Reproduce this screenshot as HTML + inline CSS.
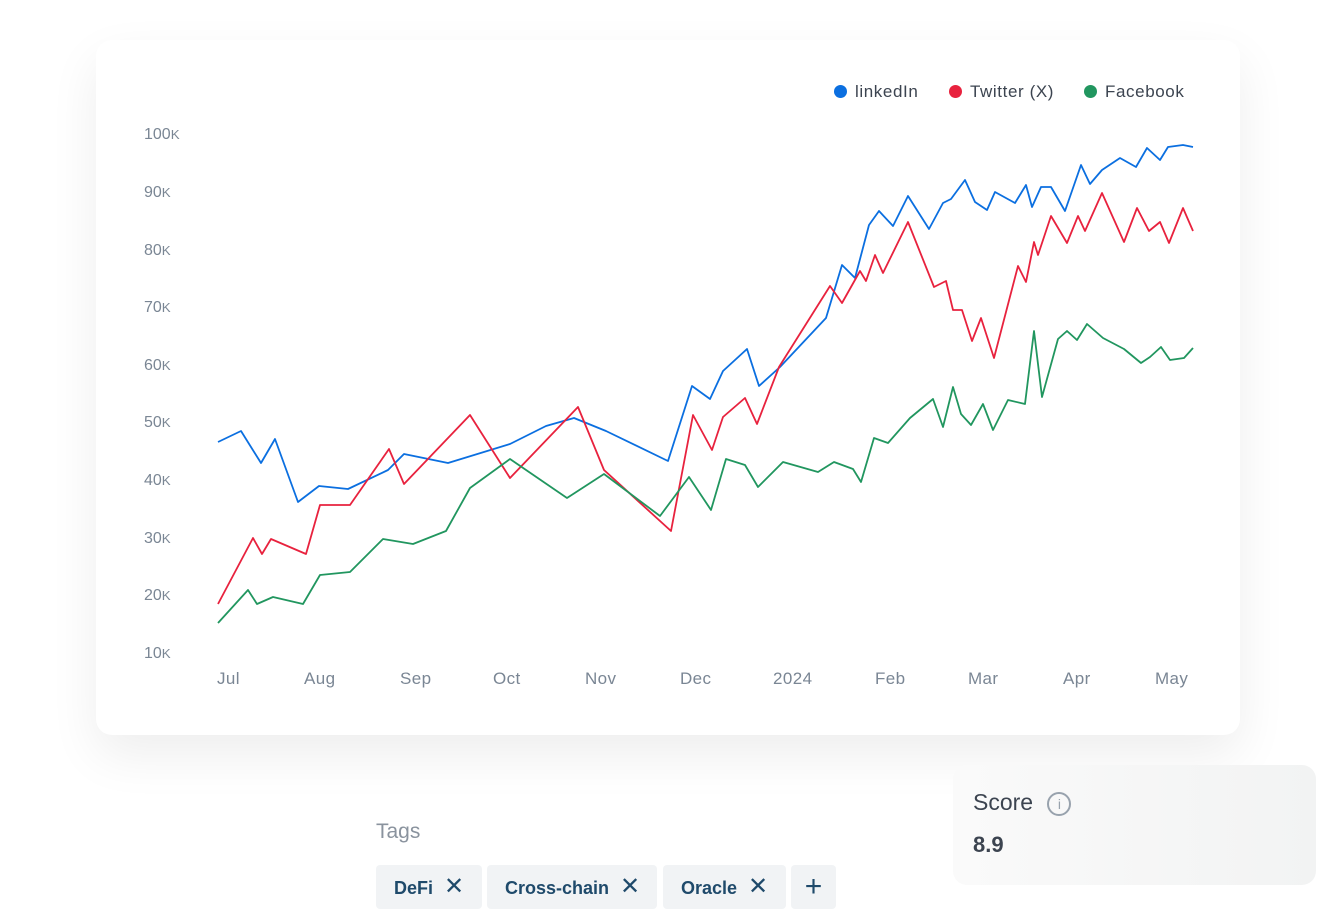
<!DOCTYPE html><html><head><style>
body{margin:0;width:1337px;height:912px;background:#fff;font-family:"Liberation Sans",sans-serif;position:relative;overflow:hidden}
.card{position:absolute;left:96px;top:40px;width:1144px;height:695px;background:#fff;border-radius:16px;box-shadow:0 20px 50px rgba(0,0,0,0.07)}
.yl{position:absolute;font-size:16px;color:#7a8694;margin-top:2px}
.xl{position:absolute;font-size:17px;color:#7a8694;top:669px;letter-spacing:0.4px}
.leg{position:absolute;top:82px;font-size:17px;color:#3c4450;letter-spacing:0.6px}
.dot{display:inline-block;width:13px;height:13px;border-radius:50%;margin-right:8px;vertical-align:-1px}
.tag{position:absolute;top:865px;height:44px;background:#f1f3f5;border-radius:4px;color:#1f4a6b;font-weight:bold;font-size:18px;line-height:44px;padding:0 0 0 18px;box-sizing:border-box}
</style></head><body>
<div class="card"></div>
<div class="leg" style="left:834px"><span class="dot" style="background:#0b6fe0"></span>linkedIn</div>
<div class="leg" style="left:949px"><span class="dot" style="background:#e8223e"></span>Twitter (X)</div>
<div class="leg" style="left:1084px"><span class="dot" style="background:#21965f"></span>Facebook</div>
<div class="yl" style="left:144px;top:124px">100<small>K</small></div>
<div class="yl" style="left:144px;top:182px">90<small>K</small></div>
<div class="yl" style="left:144px;top:240px">80<small>K</small></div>
<div class="yl" style="left:144px;top:297px">70<small>K</small></div>
<div class="yl" style="left:144px;top:355px">60<small>K</small></div>
<div class="yl" style="left:144px;top:412px">50<small>K</small></div>
<div class="yl" style="left:144px;top:470px">40<small>K</small></div>
<div class="yl" style="left:144px;top:528px">30<small>K</small></div>
<div class="yl" style="left:144px;top:585px">20<small>K</small></div>
<div class="yl" style="left:144px;top:643px">10<small>K</small></div>
<div class="xl" style="left:217px">Jul</div>
<div class="xl" style="left:304px">Aug</div>
<div class="xl" style="left:400px">Sep</div>
<div class="xl" style="left:493px">Oct</div>
<div class="xl" style="left:585px">Nov</div>
<div class="xl" style="left:680px">Dec</div>
<div class="xl" style="left:773px">2024</div>
<div class="xl" style="left:875px">Feb</div>
<div class="xl" style="left:968px">Mar</div>
<div class="xl" style="left:1063px">Apr</div>
<div class="xl" style="left:1155px">May</div>
<svg style="position:absolute;left:0;top:0" width="1337" height="912" fill="none" stroke-width="1.8" stroke-linejoin="round">
<polyline stroke="#0b6fe0" points="218,442 241,431 261,463 275,439 298,502 319,486 348,489 388,470 404,454 448,463 510,444 546,426 574,418 606,431 668,461 692,386 710,399 723,371 747,349 759,386 780,367 826,318 842,265 855,278 869,225 879,211 893,226 908,196 929,229 943,203 951,199 965,180 975,202 987,210 995,192 1015,203 1026,185 1032,207 1041,187 1051,187 1065,211 1081,165 1090,184 1102,170 1120,158 1136,167 1147,148 1160,160 1168,147 1183,145 1193,147"/>
<polyline stroke="#e8223e" points="218,604 253,538 262,554 271,539 306,554 320,505 350,505 389,449 404,484 470,415 510,478 578,407 604,470 671,531 693,415 712,450 723,417 745,398 757,424 779,367 830,286 842,303 860,271 866,281 875,255 883,273 908,222 934,287 946,281 953,310 962,310 972,341 981,318 994,358 1018,266 1026,282 1034,242 1038,255 1051,216 1067,243 1078,216 1085,231 1102,193 1124,242 1137,208 1149,231 1160,222 1169,243 1183,208 1193,231"/>
<polyline stroke="#21965f" points="218,623 248,590 257,604 273,597 303,604 320,575 350,572 383,539 413,544 446,531 470,488 510,459 567,498 604,474 660,516 689,477 711,510 726,459 745,465 758,487 783,462 818,472 834,462 853,469 861,482 874,438 888,443 910,418 933,399 943,427 953,387 961,414 971,425 983,404 993,430 1008,400 1025,404 1034,331 1042,397 1058,339 1067,331 1077,340 1087,324 1103,338 1124,349 1141,363 1150,357 1161,347 1170,360 1184,358 1193,348"/>
</svg>
<div style="position:absolute;left:376px;top:820px;font-size:21px;color:#8a939e">Tags</div>
<div class="tag" style="left:376px;width:106px">DeFi <span style="font-weight:normal;font-size:24px;margin-left:6px">✕</span></div>
<div class="tag" style="left:487px;width:170px">Cross-chain <span style="font-weight:normal;font-size:24px;margin-left:6px">✕</span></div>
<div class="tag" style="left:663px;width:123px">Oracle <span style="font-weight:normal;font-size:24px;margin-left:6px">✕</span></div>
<div class="tag" style="left:791px;width:45px;padding:0;text-align:center;font-size:30px;font-weight:normal">+</div>
<div style="position:absolute;left:953px;top:765px;width:363px;height:120px;border-radius:14px;background:linear-gradient(90deg,#fafafa,#f2f3f3)"></div>
<div style="position:absolute;left:973px;top:789px;font-size:23px;color:#3c4450">Score <span style="display:inline-block;width:20px;height:20px;border:2px solid #98a2ad;border-radius:50%;font-size:14px;line-height:20px;text-align:center;color:#98a2ad;margin-left:8px;vertical-align:1px">i</span></div>
<div style="position:absolute;left:973px;top:832px;font-size:22px;font-weight:bold;color:#3c4450">8.9</div>
</body></html>
